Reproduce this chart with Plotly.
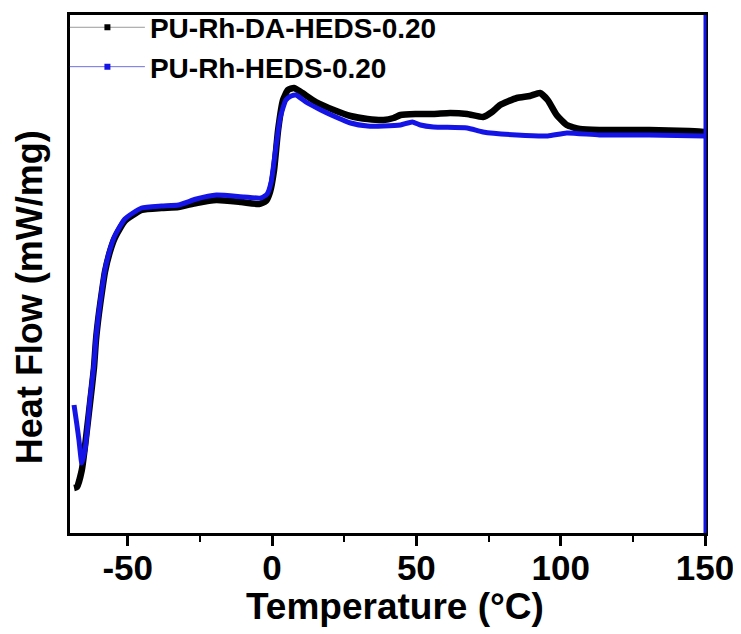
import plotly.graph_objects as go

# Temperature (°C) and heat flow (arbitrary mW/mg scale)
temp_da = [-68.6, -67.6, -65.9, -63.1, -61.7, -61.0, -60.0, -59.0, -57.9, -56.2, -54.5, -51.0,
           -45.2, -38.3, -32.4, -26.2, -19.3, -10.7, -4.5, -2.1, -0.7, 0.7, 2.1, 3.8, 5.5, 7.6, 10.0,
           15.2, 21.4, 27.2, 33.1, 38.6, 42.1, 44.5, 49.7, 55.9, 61.7, 67.6, 73.1, 76.2, 79.0,
           84.8, 89.3, 92.8, 95.5, 98.6, 102.1, 106.6, 113.4, 130.7, 144.5, 149.7]
hf_da = [0.26, 0.265, 0.35, 0.68, 0.86, 1.0, 1.13, 1.235, 1.34, 1.44, 1.51, 1.595,
         1.65, 1.66, 1.665, 1.685, 1.70, 1.69, 1.68, 1.695, 1.74, 1.85, 2.05, 2.20, 2.25, 2.26, 2.24,
         2.19, 2.15, 2.12, 2.105, 2.10, 2.11, 2.125, 2.13, 2.13, 2.135, 2.13, 2.115, 2.14, 2.175,
         2.21, 2.22, 2.235, 2.20, 2.125, 2.075, 2.055, 2.05, 2.05, 2.045, 2.04]

temp_heds = [-68.6, -67.6, -66.9, -65.9, -64.8, -64.1, -63.1, -61.7, -61.0, -60.0, -59.0, -57.9,
             -56.2, -54.5, -51.0, -45.2, -38.3, -32.4, -26.2, -19.3, -9.7, -3.8, -1.7, -0.3, 1.0,
             2.8, 4.8, 6.6, 8.3, 11.7, 16.9, 22.1, 27.2, 33.1, 38.6, 44.5, 48.6, 51.4, 55.9, 67.6,
             73.1, 84.8, 95.5, 102.1, 113.4, 130.7, 149.7]
hf_heds = [0.675, 0.575, 0.50, 0.385, 0.45, 0.54, 0.70, 0.875, 1.01, 1.14, 1.245, 1.35,
           1.45, 1.52, 1.605, 1.66, 1.67, 1.675, 1.705, 1.725, 1.715, 1.71, 1.73, 1.79, 1.925,
           2.11, 2.20, 2.22, 2.225, 2.19, 2.15, 2.115, 2.085, 2.07, 2.07, 2.075, 2.09, 2.075, 2.065,
           2.06, 2.04, 2.025, 2.02, 2.035, 2.025, 2.025, 2.02]

x_ticks = [-50, 0, 50, 100, 150]
x_minor = [-25, 25, 75, 125]
names = ["PU-Rh-DA-HEDS-0.20", "PU-Rh-HEDS-0.20"]

BLACK = "#000000"
BLUE = "#1414e6"
FONT = "Liberation Sans, Arial, sans-serif"

fig = go.Figure()
fig.add_trace(go.Scatter(x=temp_da, y=hf_da, mode="lines", line=dict(color=BLACK, width=6.5, shape="spline", smoothing=0.5),
                         showlegend=False))
fig.add_trace(go.Scatter(x=temp_heds, y=hf_heds, mode="lines", line=dict(color=BLUE, width=5, shape="spline", smoothing=0.5),
                         showlegend=False))
# legend entries
fig.add_trace(go.Scatter(x=[None], y=[None], mode="lines+markers", name=names[0],
                         line=dict(color="#9a9a9a", width=1), marker=dict(symbol="square", size=6, color=BLACK)))
fig.add_trace(go.Scatter(x=[None], y=[None], mode="lines+markers", name=names[1],
                         line=dict(color="#7070e0", width=1), marker=dict(symbol="square", size=6, color=BLUE)))

fig.update_layout(
    width=741, height=634,
    margin=dict(l=62, r=44, t=7, b=109, autoexpand=False),
    plot_bgcolor="white", paper_bgcolor="white",
    font=dict(family=FONT, color="black"),
    showlegend=True,
    legend=dict(x=-0.008, y=1.024, xanchor="left", yanchor="top", bgcolor="rgba(0,0,0,0)",
                font=dict(size=28, family=FONT, weight="bold"), itemwidth=75, tracegroupgap=0),
    xaxis=dict(range=[-70, 150], tickvals=x_ticks, ticktext=[str(v) for v in x_ticks],
               ticks="outside", ticklen=10, tickwidth=3, tickcolor="black",
               minor=dict(tickvals=x_minor, ticks="outside", ticklen=6, tickwidth=2, tickcolor="black"),
               showline=True, linewidth=3, linecolor="black", mirror=True,
               showgrid=False, zeroline=False, ticklabelstandoff=-8,
               tickfont=dict(size=35, family=FONT, weight="bold")),
    yaxis=dict(range=[0.035, 2.625], showticklabels=False, ticks="",
               showline=True, linewidth=3, linecolor="black", mirror=True,
               showgrid=False, zeroline=False),
    shapes=[dict(type="line", xref="paper", yref="paper", x0=1, x1=1, y0=0, y1=1,
                 line=dict(color=BLUE, width=3))],
    annotations=[
        dict(text="Temperature (°C)", xref="paper", yref="paper", x=0.512, y=-0.141,
             showarrow=False, xanchor="center", yanchor="middle",
             font=dict(size=37, family=FONT, weight="bold")),
        dict(text="Heat Flow (mW/mg)", xref="paper", yref="paper", x=-0.064, y=0.456,
             showarrow=False, xanchor="center", yanchor="middle", textangle=-90,
             font=dict(size=36, family=FONT, weight="bold")),
    ],
)

fig.write_html("out.html")
